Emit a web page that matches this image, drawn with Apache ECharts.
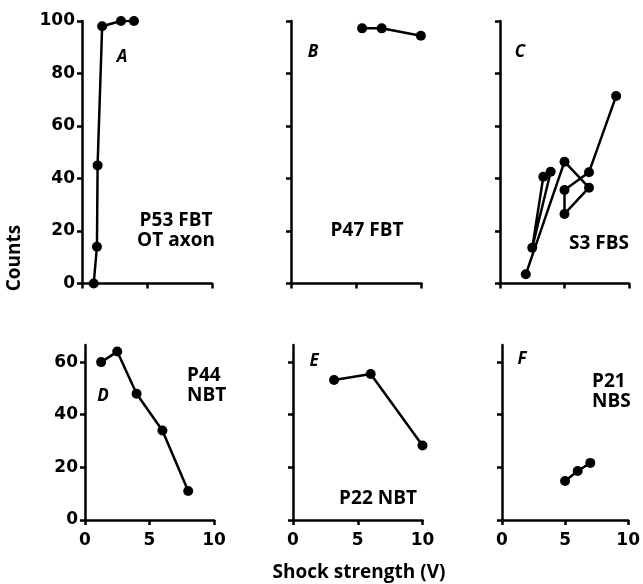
<!DOCTYPE html>
<html>
<head>
<meta charset="utf-8">
<script src="https://cdn.jsdelivr.net/npm/echarts@6/dist/echarts.min.js"></script>
<style>
html,body{margin:0;padding:0;background:#fff;}
#c{width:643px;height:584px;}
</style>
</head>
<body>
<div id="c"></div>
<script>
// ---- data ----
const xTicks = [0, 5, 10];
const yTicksTop = [0, 20, 40, 60, 80, 100];
const yTicksBottom = [0, 20, 40, 60];

const aX = [0.9, 1.15, 1.2, 1.55, 3.0, 4.0];
const aY = [0, 14, 45, 98, 100, 100];

const bX = [5.45, 6.95, 9.95];
const bY = [97.2, 97.2, 94.4];

// panel C: main trajectory and V-shaped pair
const cMainX = [2.0, 5.0, 6.9, 5.0, 5.0, 6.9, 9.0];
const cMainY = [3.5, 46.4, 36.5, 26.5, 35.6, 42.4, 71.4];
const cVX = [3.36, 2.5, 3.93];
const cVY = [40.7, 13.6, 42.6];

const dX = [1.25, 2.5, 4.0, 6.0, 8.0];
const dY = [60, 64, 48, 34, 11];

const eX = [3.17, 6.0, 10.0];
const eY = [53.2, 55.5, 28.3];

const fX = [5.0, 6.0, 7.0];
const fY = [14.8, 18.6, 21.7];

const panelLetters = ['A', 'B', 'C', 'D', 'E', 'F'];
const xName = 'Shock strength (V)';
const yName = 'Counts';

// ---- layout ----
const FONT = '"Open Sans", sans-serif';
const TICKFONT = '"DejaVu Sans", sans-serif';
const grids = [
  {left: 82, top: 21, width: 130, height: 262.5},
  {left: 291, top: 21, width: 130.5, height: 262.5},
  {left: 500, top: 21, width: 129, height: 262.5},
  {left: 85, top: 345, width: 129, height: 175},
  {left: 293, top: 345, width: 129.5, height: 175},
  {left: 502, top: 345, width: 127, height: 175}
];

function zip(xs, ys) { return xs.map((x, i) => [x, ys[i]]); }

const axisLineStyle = {color: '#000', width: 2.5};
const xAxes = grids.map((g, i) => ({
  type: 'value', gridIndex: i, min: xTicks[0], max: xTicks[xTicks.length - 1], interval: 5,
  axisLine: {show: true, lineStyle: axisLineStyle, onZero: false},
  axisTick: {show: true, length: 5, lineStyle: {color: '#000', width: 2.5}},
  axisLabel: {show: i >= 3, color: '#000', fontFamily: TICKFONT, fontSize: 17, fontWeight: 'bold', margin: 12},
  splitLine: {show: false}
}));
const yAxes = grids.map((g, i) => {
  const top = i < 3;
  const ticks = top ? yTicksTop : yTicksBottom;
  return {
    type: 'value', gridIndex: i, min: 0, max: top ? 100 : 66.5, interval: 20,
    axisLine: {show: true, lineStyle: axisLineStyle, onZero: false},
    axisTick: {show: true, length: 5, lineStyle: {color: '#000', width: 2.5}, customValues: ticks},
    axisLabel: {show: i === 0 || i === 3, color: '#000', fontFamily: TICKFONT, fontSize: 17, fontWeight: 'bold', margin: 7, customValues: ticks},
    splitLine: {show: false}
  };
});

function lineSeries(idx, xs, ys) {
  return {
    type: 'line', xAxisIndex: idx, yAxisIndex: idx, data: zip(xs, ys),
    symbol: 'circle', symbolSize: 10, showSymbol: true,
    lineStyle: {color: '#000', width: 2.5},
    itemStyle: {color: '#000'},
    animation: false, silent: true
  };
}

const series = [
  lineSeries(0, aX, aY),
  lineSeries(1, bX, bY),
  lineSeries(2, cMainX, cMainY),
  lineSeries(2, cVX, cVY),
  lineSeries(3, dX, dY),
  lineSeries(4, eX, eY),
  lineSeries(5, fX, fY)
];

const letterPos = [[122, 57], [313, 52], [520, 52], [103, 396], [314, 361], [522, 359]];
const annotations = [
  {t: 'P53 FBT\nOT axon', x: 176, y: 231, align: 'center'},
  {t: 'P47 FBT', x: 367, y: 231, align: 'center'},
  {t: 'S3 FBS', x: 599, y: 244, align: 'center'},
  {t: 'P44\nNBT', x: 187, y: 386, align: 'left'},
  {t: 'P22 NBT', x: 378, y: 499, align: 'center'},
  {t: 'P21\nNBS', x: 592, y: 392, align: 'left'}
];

const graphic = [];
panelLetters.forEach((L, i) => {
  graphic.push({type: 'text', x: letterPos[i][0], y: letterPos[i][1], silent: true,
    style: {text: L, fill: '#000', font: 'italic bold 17px ' + FONT, textAlign: 'center', textVerticalAlign: 'middle'}});
});
annotations.forEach(a => {
  graphic.push({type: 'text', x: a.x, y: a.y, silent: true,
    style: {text: a.t, fill: '#000', font: 'bold 19px ' + FONT, textAlign: a.align, textVerticalAlign: 'middle', lineHeight: 20}});
});
graphic.push({type: 'text', x: 359, y: 573, silent: true,
  style: {text: xName, fill: '#000', font: 'bold 19px ' + FONT, textAlign: 'center', textVerticalAlign: 'middle'}});
graphic.push({type: 'text', x: 15, y: 258, rotation: Math.PI / 2, silent: true,
  style: {text: yName, fill: '#000', font: 'bold 19px ' + FONT, textAlign: 'center', textVerticalAlign: 'middle'}});

const chart = echarts.init(document.getElementById('c'), null, {renderer: 'canvas'});
chart.setOption({
  animation: false,
  backgroundColor: '#fff',
  grid: grids,
  xAxis: xAxes,
  yAxis: yAxes,
  series: series,
  graphic: graphic
});
</script>
</body>
</html>
